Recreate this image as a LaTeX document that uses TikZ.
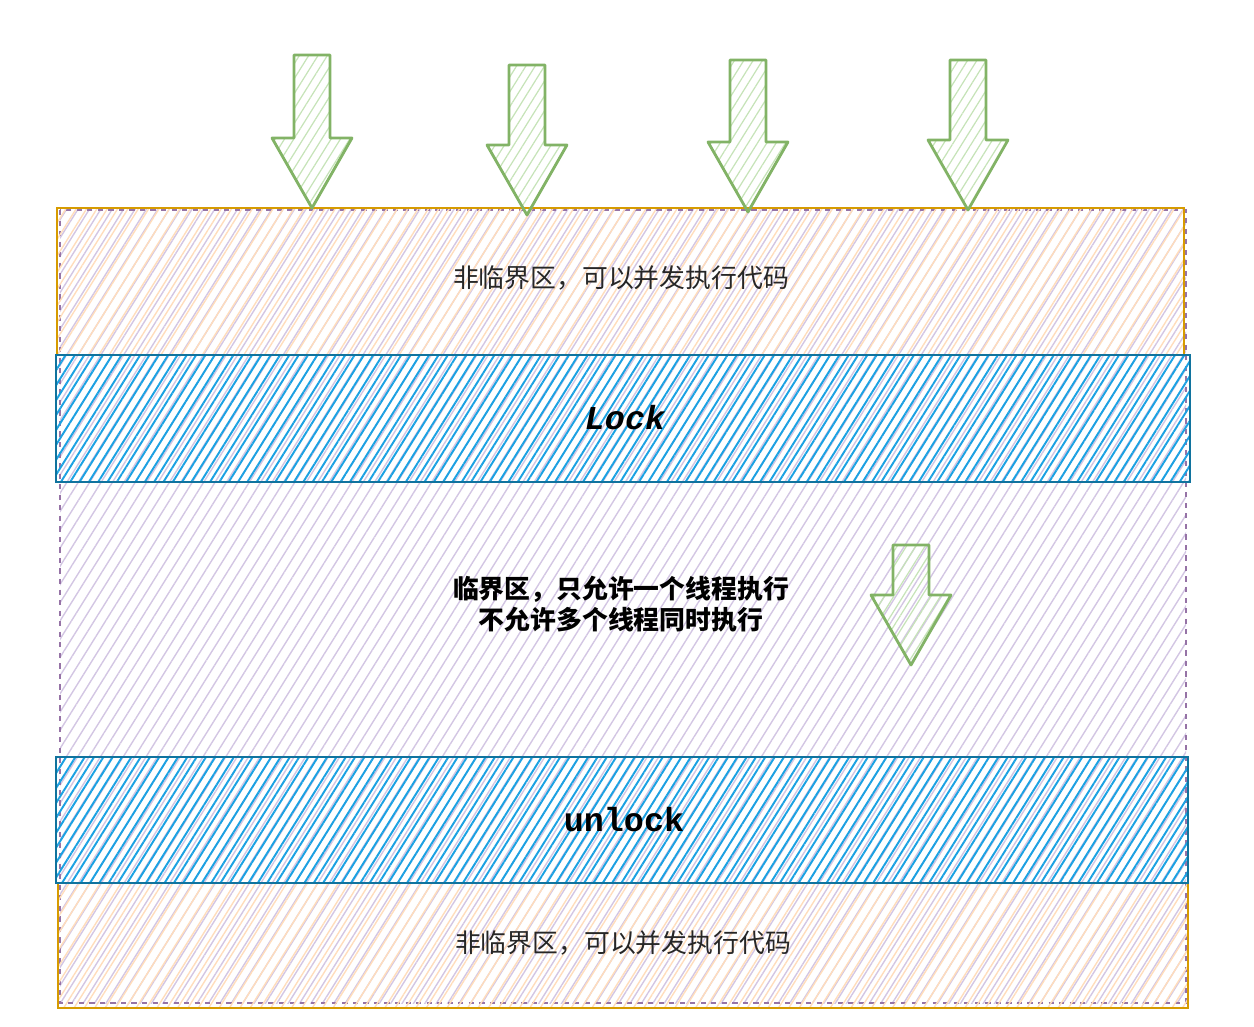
\documentclass[tikz,border=0pt]{standalone}
\usepackage{fontspec}
\setmonofont{Liberation Mono}
\newfontfamily\cjk{Noto Sans CJK SC}
\usetikzlibrary{patterns.meta}
\definecolor{dOrange}{HTML}{D79B00}
\definecolor{dOrangeFill}{HTML}{FFDDBC}
\definecolor{dBlue}{HTML}{10739E}
\definecolor{dBlueFill}{HTML}{1BA1E2}
\definecolor{dPurple}{HTML}{9673A6}
\definecolor{dPurpleFill}{HTML}{D3C6E3}
\definecolor{dGreen}{HTML}{82B366}
\definecolor{dGreenFill}{HTML}{C6E3B8}

\tikzset{
  zone/.style={draw=dOrange, line width=1.6pt,
    pattern={Lines[angle=58, distance=5pt, line width=0.8pt]}, pattern color=dOrangeFill},
  lockbar/.style={draw=dBlue, line width=1.3pt,
    pattern={Lines[angle=58, distance=4.5pt, line width=1.1pt]}, pattern color=dBlueFill},
  critical/.style={pattern={Lines[angle=58, distance=5.5pt, line width=0.8pt]},
    pattern color=dPurpleFill, postaction={draw=dPurple, line width=0.9pt, dashed}},
  thread/.style={draw=dGreen, line width=1.6pt, line join=round,
    pattern={Lines[angle=58, distance=4.5pt, line width=0.7pt]}, pattern color=dGreenFill},
  plaintxt/.style={font=\cjk\fontsize{14.7}{20}\selectfont, text=black!85},
  boldtxt/.style={font=\cjk\bfseries\fontsize{14.7}{18}\selectfont, align=center},
  codetxt/.style={font=\ttfamily\bfseries\fontsize{19}{22}\selectfont},
}

\begin{document}
\begin{tikzpicture}[x=0.02cm, y=-0.02cm]
    \useasboundingbox (0,0) rectangle (1254,1027);
    % critical section (whole block)
    \path[critical] (60,210) rectangle (1186,1003);
    % non-critical parts
    \draw[zone] (57,208) rectangle (1184,355);
    \draw[zone] (58,883) rectangle (1188,1008);
    % lock / unlock bars
    \draw[lockbar] (56,355) rectangle (1190,482);
    \draw[lockbar] (56,757) rectangle (1188,883);
    % threads coming in
    \foreach \cx/\ty/\tip in {312/55/208, 527/65/215, 748/60/212, 968/60/210, 911/545/665}
      \draw[thread] (\cx-18,\ty) -- (\cx+18,\ty) -- (\cx+18,\tip-70) -- (\cx+40,\tip-70)
        -- (\cx,\tip) -- (\cx-40,\tip-70) -- (\cx-18,\tip-70) -- cycle;
    % Labels
    \node[plaintxt] (top) at (621,278) {非临界区，可以并发执行代码};
    \node[codetxt] (lock) at (625,418) {\itshape Lock};
    \node[boldtxt] (mid) at (621,604) {临界区，只允许一个线程执行\\不允许多个线程同时执行};
    \node[codetxt] (unlock) at (624,820) {unlock};
    \node[plaintxt] (bottom) at (623,943) {非临界区，可以并发执行代码};
\end{tikzpicture}
\end{document}
